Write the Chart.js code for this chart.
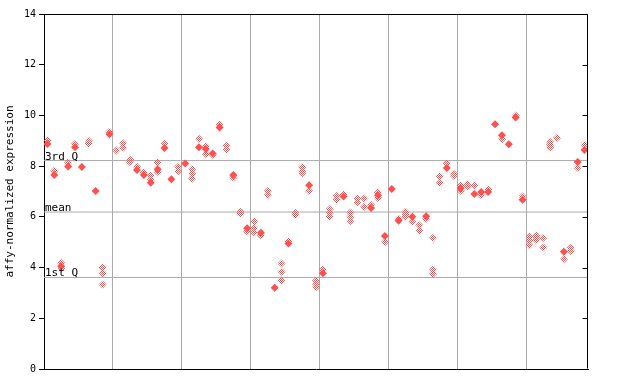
<!DOCTYPE html>
<html><head><meta charset="utf-8">
<script src="https://cdn.jsdelivr.net/npm/chart.js@4"></script>
<style>html,body{margin:0;padding:0;background:#fff}</style>
</head><body>
<canvas id="c" width="640" height="384" style="display:block;width:640px;height:384px"></canvas>
<script>
// ---- data ----
const yTicks = [0, 2, 4, 6, 8, 10, 12, 14];
const yTitle = 'affy-normalized expression';
const quantileLabels = ['1st Q', 'mean', '3rd Q'];
const quantileValues = [3.61, 6.19, 8.22];
const groupBreaks = [10, 20, 30, 40, 50, 60, 70];
const sampleCount = 79;
// values per sample column: solid markers
const filledValues = [
  [8.87],[7.65],[4.05],[7.99],[8.75],[7.97],[],[7.02],[],[9.26],
  [],[],[],[7.85],[7.65],[7.35],[7.88],[8.72],[7.48],[],
  [8.1],[],[8.75],[8.68],[8.5],[9.52],[],[7.65],[],[5.55],
  [],[5.37],[],[3.2],[],[4.95],[],[],[7.25],[],
  [3.78],[],[],[6.8],[],[],[],[6.35],[6.85],[5.25],
  [7.1],[5.85],[],[6.0],[],[6.02],[],[],[7.93],[],
  [7.13],[],[6.9],[6.98],[6.98],[9.65],[9.22],[8.86],[9.92],[6.67],
  [],[],[],[],[],[4.62],[],[8.16],[8.64]
];
// values per sample column: checkered markers
const hollowValues = [
  [9.02],[7.82],[4.18,3.95],[8.14],[8.87],[],[9.0,8.9],[],[4.0,3.79,3.33],[9.36],
  [8.62],[8.9,8.73],[8.26,8.15],[7.98],[7.75],[7.63,7.48],[8.14,7.78],[8.88],[],[7.98,7.8],
  [],[7.88,7.7,7.5],[9.08],[8.78,8.48],[8.45],[9.65],[8.8,8.65],[7.55],[6.2,6.12],[5.42],
  [5.82,5.55,5.38],[5.27],[7.02,6.86],[],[4.16,3.84,3.5],[5.05],[6.15,6.07],[7.97,7.8,7.72],[7.02],[3.48,3.35,3.22],
  [3.92],[6.3,6.15,6.0],[6.82,6.67],[6.88],[6.17,6.0,5.84],[6.72,6.56],[6.72,6.4],[6.47],[6.96,6.74],[5.0],
  [],[5.93],[6.2,6.1,6.0],[5.8],[5.67,5.45],[5.93],[5.18,3.92,3.75],[7.59,7.35],[8.1],[7.7,7.62],
  [7.25,7.03],[7.3,7.18],[7.24],[6.85],[7.08],[],[9.06],[],[10.0],[6.8],
  [5.22,5.06,4.88],[5.27,5.17,5.08],[5.17,4.79],[8.95,8.84,8.74],[9.11],[4.33],[4.78,4.65],[7.94],[8.84]
];

// ---- build ----
const RED = 'rgb(255,80,80)';
const GRID = '#aaaaaa';
const FONT = '"DejaVu Sans Mono", "Liberation Mono", monospace';

function toPoints(cols) {
  const pts = [];
  cols.forEach((vals, k) => vals.forEach(v => pts.push({x: k + 0.5, y: v})));
  return pts;
}
const pc = document.createElement('canvas');
pc.width = 2; pc.height = 2;
const pctx = pc.getContext('2d');
pctx.fillStyle = RED;
pctx.fillRect(0, 0, 1, 1);
pctx.fillRect(1, 1, 1, 1);
const checker = document.getElementById('c').getContext('2d').createPattern(pc, 'repeat');

const datasets = [];
quantileValues.forEach((q, i) => {
  datasets.push({
    type: 'line', label: quantileLabels[i],
    data: [{x: 0, y: q}, {x: sampleCount, y: q}],
    borderColor: GRID, borderWidth: 1, pointRadius: 0, order: 10
  });
});
datasets.push({
  type: 'scatter', label: 'checkered', data: toPoints(hollowValues),
  pointStyle: 'rectRot', pointRadius: 4, pointBorderWidth: 0,
  backgroundColor: checker, borderColor: 'rgba(0,0,0,0)', order: 5
});
datasets.push({
  type: 'scatter', label: 'solid', data: toPoints(filledValues),
  pointStyle: 'rectRot', pointRadius: 4, pointBorderWidth: 0,
  backgroundColor: RED, borderColor: 'rgba(0,0,0,0)', order: 1
});

const framePlugin = {
  id: 'frame',
  afterDraw(chart) {
    const {ctx, chartArea: a, scales} = chart;
    const y = scales.y;
    ctx.save();
    ctx.strokeStyle = '#000';
    ctx.lineWidth = 1;
    const L = Math.round(a.left) + 0.5, R = Math.round(a.right) - 0.5;
    const T = Math.round(a.top) + 0.5, B = Math.round(a.bottom) - 0.5;
    ctx.beginPath();
    ctx.moveTo(L, T); ctx.lineTo(R, T); ctx.lineTo(R, B);
    yTicks.forEach(v => {
      const py = Math.round(y.getPixelForValue(v)) + 0.5;
      ctx.moveTo(R, py); ctx.lineTo(R - 5, py);
    });
    ctx.stroke();
    ctx.fillStyle = '#000';
    ctx.font = '11px ' + FONT;
    ctx.textAlign = 'left';
    ctx.textBaseline = 'alphabetic';
    quantileValues.forEach((q, i) => {
      const py = Math.round(y.getPixelForValue(q));
      ctx.fillText(quantileLabels[i], a.left + 1, py - 1);
    });
    ctx.restore();
  }
};

new Chart(document.getElementById('c'), {
  data: {datasets},
  options: {
    responsive: false, animation: false, devicePixelRatio: 1,
    layout: {padding: {left: 0, top: 14, right: 52, bottom: 15}},
    plugins: {legend: {display: false}, tooltip: {enabled: false}},
    scales: {
      x: {
        type: 'linear', min: 0, max: sampleCount,
        afterBuildTicks: s => { s.ticks = groupBreaks.map(v => ({value: v})); },
        afterFit: s => { s.height = 0; },
        ticks: {display: false},
        grid: {color: GRID, lineWidth: 1, drawTicks: false},
        border: {display: true, color: '#000', width: 1}
      },
      y: {
        type: 'linear', min: 0, max: 14,
        afterBuildTicks: s => { s.ticks = yTicks.map(v => ({value: v})); },
        afterFit: s => { s.width = 44; },
        ticks: {color: '#000', padding: 3, font: {family: FONT, size: 10}},
        grid: {drawOnChartArea: false, drawTicks: true, tickLength: 5, tickColor: '#000'},
        border: {display: true, color: '#000', width: 1},
        title: {display: true, text: yTitle, color: '#000', font: {family: FONT, size: 11}, padding: {top: 4, bottom: 0}}
      }
    }
  },
  plugins: [framePlugin]
});
</script>
</body></html>
